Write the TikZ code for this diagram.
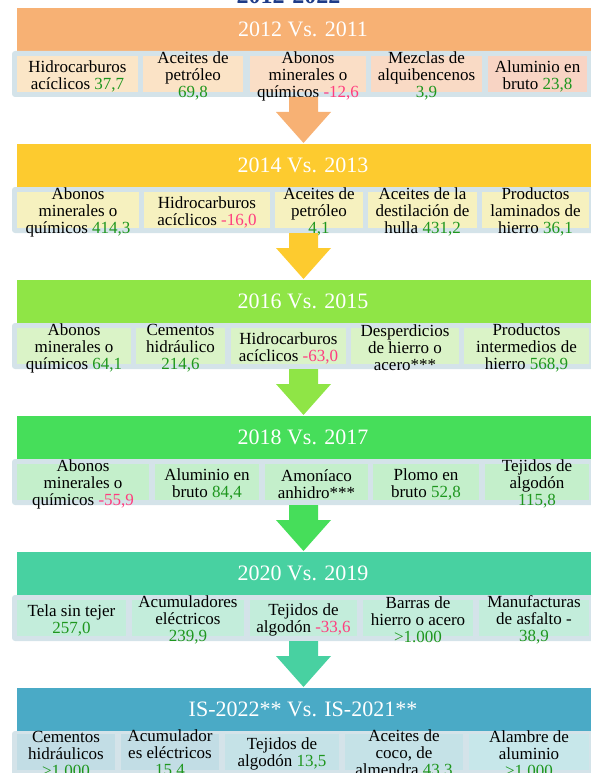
\documentclass[tikz,border=0pt]{standalone}
\usepackage{fontspec}
\setmainfont{Liberation Serif}
\usetikzlibrary{calc}
\definecolor{bandc}{HTML}{D4E3E9}
\definecolor{numgreen}{HTML}{1E961E}
\definecolor{numpink}{HTML}{FF3D7F}
\definecolor{titleblue}{HTML}{1F3C88}
\definecolor{hA}{HTML}{F7B174}
\definecolor{hB}{HTML}{FDCB2F}
\definecolor{hC}{HTML}{8FE546}
\definecolor{hD}{HTML}{46DE5A}
\definecolor{hE}{HTML}{48D1A1}
\definecolor{hF}{HTML}{4AAAC6}
\definecolor{cA1}{HTML}{FBE6C7}
\definecolor{cA2}{HTML}{FBE3C6}
\definecolor{cA3}{HTML}{FADEC6}
\definecolor{cA4}{HTML}{F9DAC5}
\definecolor{cA5}{HTML}{F8D4C4}
\definecolor{cB}{HTML}{F6F1BF}
\definecolor{cC}{HTML}{DAF3C7}
\definecolor{cD}{HTML}{C4EFCB}
\definecolor{cE}{HTML}{C3EDDB}
\definecolor{cF1}{HTML}{C2DDE5}
\definecolor{cF2}{HTML}{C5E2E7}
\definecolor{cF3}{HTML}{C7E7EA}
\tikzset{
  headtext/.style={text=white, font=\fontsize{22}{24}\selectfont, inner sep=0pt},
  celltext/.style={align=center, font=\fontsize{17}{17}\selectfont, inner sep=0pt, text=black},
}
\newcommand\posv[1]{\textcolor{numgreen}{#1}}
\newcommand\negv[1]{\textcolor{numpink}{#1}}
% name, x1, x2, band top, fill, text
\newcommand\cellbox[6]{%
  \fill[#5] (#2,#4+5) rectangle (#3,#4+41);
  \node[celltext] (#1) at ({(#2+#3)/2},#4+25) {#6};}
% name, top, colour, text
\newcommand\headband[4]{%
  \fill[#3] (17,#2) rectangle (600,#2+43);
  \fill[bandc, rounded corners=3pt] (12,#2+43) rectangle (610,#2+89);
  \node[headtext] (#1) at (303,#2+21.5) {#4};}
% name, band bottom, colour
\newcommand\blockarrow[3]{%
  \coordinate (#1) at (303.5,#2);
  \fill[#3] ($(#1)+(-14.5,0)$) -- ($(#1)+(-14.5,15)$) -- ($(#1)+(-27.5,15)$)
    -- ($(#1)+(0,46)$) -- ($(#1)+(27.5,15)$) -- ($(#1)+(14.5,15)$)
    -- ($(#1)+(14.5,0)$) -- cycle;}
\begin{document}
\begin{tikzpicture}[x=1pt,y=-1pt]
\useasboundingbox (0,0) rectangle (591,773);
\clip (0,0) rectangle (591,773);
\node[text=titleblue, font=\bfseries\fontsize{24}{26}\selectfont, anchor=base, inner sep=0pt] (title) at (288.5,4) {2012-2022};

% ---- Section 1
\headband{h1}{8}{hA}{2012 Vs. 2011}
\cellbox{a1}{17}{138}{51}{cA1}{Hidrocarburos\\acíclicos \posv{37,7}}
\cellbox{a2}{143}{243}{51}{cA2}{Aceites de\\petróleo\\\posv{69,8}}
\cellbox{a3}{250}{366}{51}{cA3}{Abonos\\minerales o\\químicos \negv{-12,6}}
\cellbox{a4}{371}{482}{51}{cA4}{Mezclas de\\alquibencenos\\\posv{3,9}}
\cellbox{a5}{488}{587}{51}{cA5}{Aluminio en\\bruto \posv{23,8}}
\blockarrow{r1}{97}{hA}

% ---- Section 2
\headband{h2}{144}{hB}{2014 Vs. 2013}
\cellbox{b1}{17}{139}{187}{cB}{Abonos\\minerales o\\químicos \posv{414,3}}
\cellbox{b2}{144}{270}{187}{cB}{Hidrocarburos\\acíclicos \negv{-16,0}}
\cellbox{b3}{275}{363}{187}{cB}{Aceites de\\petróleo\\\posv{4,1}}
\cellbox{b4}{368}{477}{187}{cB}{Aceites de la\\destilación de\\hulla \posv{431,2}}
\cellbox{b5}{482}{589}{187}{cB}{Productos\\laminados de\\hierro \posv{36,1}}
\blockarrow{r2}{233}{hB}

% ---- Section 3
\headband{h3}{280}{hC}{2016 Vs. 2015}
\cellbox{c1}{17}{131}{323}{cC}{Abonos\\minerales o\\químicos \posv{64,1}}
\cellbox{c2}{136}{225}{323}{cC}{Cementos\\hidráulico\\\posv{214,6}}
\cellbox{c3}{231}{346}{323}{cC}{Hidrocarburos\\acíclicos \negv{-63,0}}
\cellbox{c4}{351}{459}{323}{cC}{Desperdicios\\de hierro o\\acero***}
\cellbox{c5}{464}{589}{323}{cC}{Productos\\intermedios de\\hierro \posv{568,9}}
\blockarrow{r3}{369}{hC}

% ---- Section 4
\headband{h4}{416}{hD}{2018 Vs. 2017}
\cellbox{d1}{17}{149}{459}{cD}{Abonos\\minerales o\\químicos \negv{-55,9}}
\cellbox{d2}{155}{259}{459}{cD}{Aluminio en\\bruto \posv{84,4}}
\cellbox{d3}{265}{368}{459}{cD}{Amoníaco\\anhidro***}
\cellbox{d4}{373}{479}{459}{cD}{Plomo en\\bruto \posv{52,8}}
\cellbox{d5}{485}{589}{459}{cD}{Tejidos de\\algodón\\\posv{115,8}}
\blockarrow{r4}{505}{hD}

% ---- Section 5
\headband{h5}{552}{hE}{2020 Vs. 2019}
\cellbox{e1}{17}{126}{595}{cE}{Tela sin tejer\\\posv{257,0}}
\cellbox{e2}{132}{244}{595}{cE}{Acumuladores\\eléctricos\\\posv{239,9}}
\cellbox{e3}{250}{357}{595}{cE}{Tejidos de\\algodón \negv{-33,6}}
\cellbox{e4}{363}{473}{595}{cE}{Barras de\\hierro o acero\\\posv{>1.000}}
\cellbox{e5}{479}{589}{595}{cE}{Manufacturas\\de asfalto -\\\posv{38,9}}
\blockarrow{r5}{641}{hE}

% ---- Section 6
\headband{h6}{688}{hF}{IS-2022** Vs. IS-2021**}
\cellbox{f1}{17}{115}{729}{cF1}{Cementos\\hidráulicos\\\posv{>1.000}}
\cellbox{f2}{121}{219}{729}{cF1}{Acumulador\\es eléctricos\\\posv{15,4}}
\cellbox{f3}{225}{339}{729}{cF2}{Tejidos de\\algodón \posv{13,5}}
\cellbox{f4}{345}{463}{729}{cF2}{Aceites de\\coco, de\\almendra \posv{43,3}}
\cellbox{f5}{469}{589}{729}{cF3}{Alambre de\\aluminio\\\posv{>1.000}}
\end{tikzpicture}
\end{document}
